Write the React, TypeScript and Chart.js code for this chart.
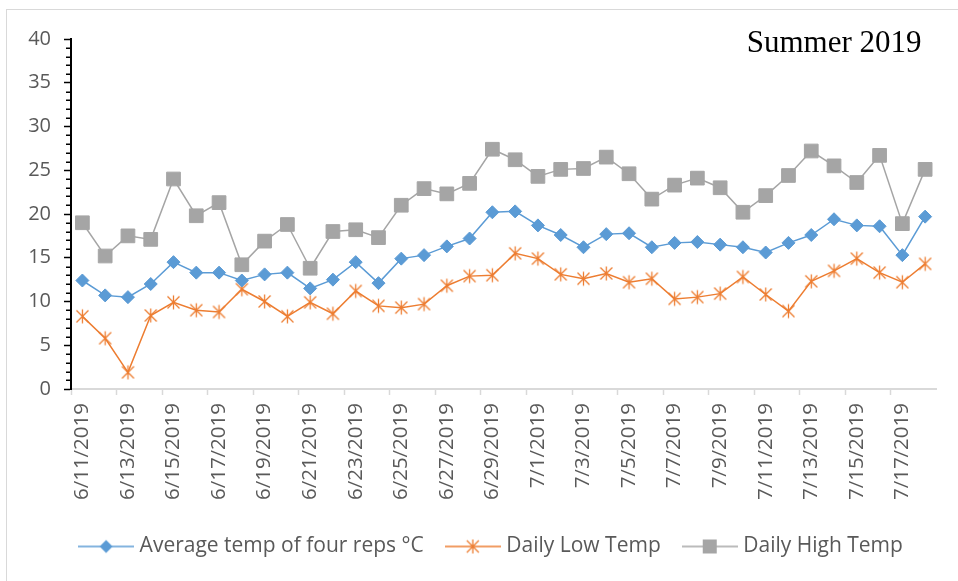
import { useEffect, useRef } from 'react';
import { Chart, registerables } from 'chart.js';

Chart.register(...registerables);

const dates = [
  '6/11/2019', '6/12/2019', '6/13/2019', '6/14/2019', '6/15/2019', '6/16/2019', '6/17/2019', '6/18/2019',
  '6/19/2019', '6/20/2019', '6/21/2019', '6/22/2019', '6/23/2019', '6/24/2019', '6/25/2019', '6/26/2019',
  '6/27/2019', '6/28/2019', '6/29/2019', '6/30/2019', '7/1/2019', '7/2/2019', '7/3/2019', '7/4/2019',
  '7/5/2019', '7/6/2019', '7/7/2019', '7/8/2019', '7/9/2019', '7/10/2019', '7/11/2019', '7/12/2019',
  '7/13/2019', '7/14/2019', '7/15/2019', '7/16/2019', '7/17/2019', '7/18/2019',
];

const avgTemp = [
  12.4, 10.7, 10.5, 12.0, 14.5, 13.3, 13.3, 12.4, 13.1, 13.3, 11.5, 12.5, 14.5,
  12.1, 14.9, 15.3, 16.3, 17.2, 20.2, 20.3, 18.7, 17.6, 16.2, 17.7, 17.8,
  16.2, 16.7, 16.8, 16.5, 16.2, 15.6, 16.7, 17.6, 19.4, 18.7, 18.6, 15.3, 19.7,
];

const lowTemp = [
  8.3, 5.8, 1.9, 8.4, 9.9, 9.0, 8.8, 11.4, 10.0, 8.3, 9.9, 8.6, 11.2,
  9.5, 9.3, 9.7, 11.8, 12.9, 13.0, 15.5, 14.9, 13.1, 12.6, 13.2, 12.2,
  12.6, 10.3, 10.5, 10.9, 12.8, 10.8, 8.9, 12.3, 13.5, 14.9, 13.3, 12.2, 14.3,
];

const highTemp = [
  19.0, 15.2, 17.5, 17.1, 24.0, 19.8, 21.3, 14.2, 16.9, 18.8, 13.8, 18.0, 18.2,
  17.3, 21.0, 22.9, 22.3, 23.5, 27.4, 26.2, 24.3, 25.1, 25.2, 26.5, 24.6,
  21.7, 23.3, 24.1, 23.0, 20.2, 22.1, 24.4, 27.2, 25.5, 23.6, 26.7, 18.9, 25.1,
];

const seriesNames = ['Average temp of four reps °C', 'Daily Low Temp', 'Daily High Temp'];
const seriesColors = ['#5B9BD5', '#ED7D31', '#A5A5A5'];
const yMin = 0;
const yMax = 40;
const yStep = 5;
const chartTitle = 'Summer 2019';

const FONT = '"Open Sans", "DejaVu Sans", sans-serif';
const TEXT = '#595959';

function drawStar(ctx: CanvasRenderingContext2D, cx: number, cy: number, color: string) {
  ctx.save();
  ctx.strokeStyle = color;
  ctx.lineWidth = 1.3;
  ctx.beginPath();
  ctx.moveTo(cx, cy - 7);
  ctx.lineTo(cx, cy + 7);
  ctx.moveTo(cx - 6, cy - 6);
  ctx.lineTo(cx + 6, cy + 6);
  ctx.moveTo(cx + 6, cy - 6);
  ctx.lineTo(cx - 6, cy + 6);
  ctx.stroke();
  ctx.restore();
}

function makeStarImage(color: string) {
  const c = document.createElement('canvas');
  c.width = 17;
  c.height = 17;
  const ctx = c.getContext('2d')!;
  drawStar(ctx, 8.5, 8.5, color);
  return c;
}

function makeLegendImage(kind: number, color: string) {
  const c = document.createElement('canvas');
  c.width = 56;
  c.height = 20;
  const ctx = c.getContext('2d')!;
  ctx.strokeStyle = color;
  ctx.lineWidth = 1.5;
  ctx.beginPath();
  ctx.moveTo(0, 10);
  ctx.lineTo(56, 10);
  ctx.stroke();
  ctx.fillStyle = color;
  if (kind === 0) {
    ctx.beginPath();
    ctx.moveTo(28, 3.5);
    ctx.lineTo(34.5, 10);
    ctx.lineTo(28, 16.5);
    ctx.lineTo(21.5, 10);
    ctx.closePath();
    ctx.fill();
  } else if (kind === 1) {
    drawStar(ctx, 28, 10, color);
  } else {
    ctx.fillRect(21, 3, 14, 14);
  }
  return c;
}

export default function App() {
  const ref = useRef<HTMLCanvasElement | null>(null);

  useEffect(() => {
    document.body.style.margin = '0';
    const canvas = ref.current;
    if (!canvas) return;

    const starImg = makeStarImage(seriesColors[1]);
    const legendImgs = [0, 1, 2].map((k) => makeLegendImage(k, seriesColors[k]));

    const framePlugin = {
      id: 'frame',
      beforeDraw(chart: any) {
        const ctx = chart.ctx;
        ctx.save();
        ctx.fillStyle = '#ffffff';
        ctx.fillRect(0, 0, chart.width, chart.height);
        ctx.strokeStyle = '#d9d9d9';
        ctx.lineWidth = 1;
        ctx.strokeRect(6.5, 9.5, 3000, 3000);
        ctx.restore();
      },
    };

    const legendShift = {
      id: 'legendShift',
      afterLayout(chart: any) {
        if (chart.legend) {
          chart.legend.left += 48;
          chart.legend.right += 0;
        }
      },
    };

    const minorTicks = {
      id: 'minorTicks',
      afterDraw(chart: any) {
        const y = chart.scales.y;
        const ctx = chart.ctx;
        ctx.save();
        ctx.strokeStyle = '#000000';
        ctx.lineWidth = 1.5;
        for (let v = yMin; v <= yMax; v += 1) {
          if (v % yStep === 0) continue;
          const py = Math.round(y.getPixelForValue(v)) + 0.25;
          ctx.beginPath();
          ctx.moveTo(chart.chartArea.left - 5, py);
          ctx.lineTo(chart.chartArea.left, py);
          ctx.stroke();
        }
        ctx.restore();
      },
    };

    const titlePlugin = {
      id: 'cornerTitle',
      afterDraw(chart: any) {
        const ctx = chart.ctx;
        ctx.save();
        ctx.font = '31px "Liberation Serif", "Times New Roman", serif';
        ctx.fillStyle = '#000000';
        ctx.textAlign = 'right';
        ctx.textBaseline = 'alphabetic';
        ctx.fillText(chartTitle, chart.chartArea.right - 15, chart.chartArea.top + 13);
        ctx.restore();
      },
    };

    const chart = new Chart(canvas, {
      type: 'line',
      data: {
        labels: dates,
        datasets: [
          {
            label: seriesNames[0],
            data: avgTemp,
            borderColor: seriesColors[0],
            backgroundColor: seriesColors[0],
            borderWidth: 1.5,
            pointStyle: 'rectRot',
            pointRadius: 6.5,
            pointBorderWidth: 1,
            tension: 0,
          },
          {
            label: seriesNames[1],
            data: lowTemp,
            borderColor: seriesColors[1],
            backgroundColor: seriesColors[1],
            borderWidth: 1.5,
            pointStyle: starImg as any,
            pointRadius: 8,
            tension: 0,
          },
          {
            label: seriesNames[2],
            data: highTemp,
            borderColor: seriesColors[2],
            backgroundColor: seriesColors[2],
            borderWidth: 1.5,
            pointStyle: 'rect',
            pointRadius: 9.7,
            pointBorderWidth: 1,
            tension: 0,
          },
        ],
      },
      options: {
        responsive: false,
        animation: false,
        events: [],
        layout: { padding: { top: 39, right: 20, bottom: 14, left: 0 } },
        plugins: {
          tooltip: { enabled: false },
          title: { display: false },
          legend: {
            display: true,
            position: 'bottom',
            labels: {
              usePointStyle: true,
              pointStyleWidth: 46,
              padding: 26,
              color: TEXT,
              font: { family: FONT, size: 21 },
              generateLabels: (c: any) => {
                const base = Chart.defaults.plugins.legend.labels.generateLabels(c);
                return base.map((l: any, i: number) => ({ ...l, pointStyle: legendImgs[i], fontColor: TEXT }));
              },
            },
          },
        },
        scales: {
          x: {
            type: 'category',
            offset: true,
            afterFit: (s: any) => {
              s.height = 121;
            },
            border: { display: true, color: '#d9d9d9', width: 2 },
            grid: {
              display: true,
              offset: true,
              drawOnChartArea: false,
              drawTicks: true,
              tickLength: 6,
              tickWidth: 1.5,
              tickColor: (ctx: any) => (ctx.index % 2 === 0 ? '#d9d9d9' : 'rgba(0,0,0,0)'),
              color: (ctx: any) => (ctx.index % 2 === 0 ? '#d9d9d9' : 'rgba(0,0,0,0)'),
            },
            ticks: {
              autoSkip: false,
              minRotation: 90,
              maxRotation: 90,
              padding: 8,
              color: TEXT,
              font: { family: FONT, size: 20.5 },
              callback: (_v: any, i: number) => (i % 2 === 0 ? dates[i] : ''),
            },
          },
          y: {
            min: yMin,
            max: yMax,
            afterFit: (s: any) => {
              s.width = 71;
            },
            border: { display: true, color: '#000000', width: 2 },
            grid: {
              display: true,
              drawOnChartArea: false,
              drawTicks: true,
              tickLength: 7,
              tickWidth: 1.5,
              tickColor: '#000000',
            },
            ticks: {
              stepSize: yStep,
              padding: 13,
              color: TEXT,
              font: { family: FONT, size: 20 },
            },
          },
        },
      },
      plugins: [framePlugin, legendShift, minorTicks, titlePlugin],
    });

    return () => {
      chart.destroy();
    };
  }, []);

  return (
    <div style={{ width: 958, height: 581, position: 'relative' }}>
      <canvas ref={ref} width={958} height={581} style={{ display: 'block' }} />
    </div>
  );
}
